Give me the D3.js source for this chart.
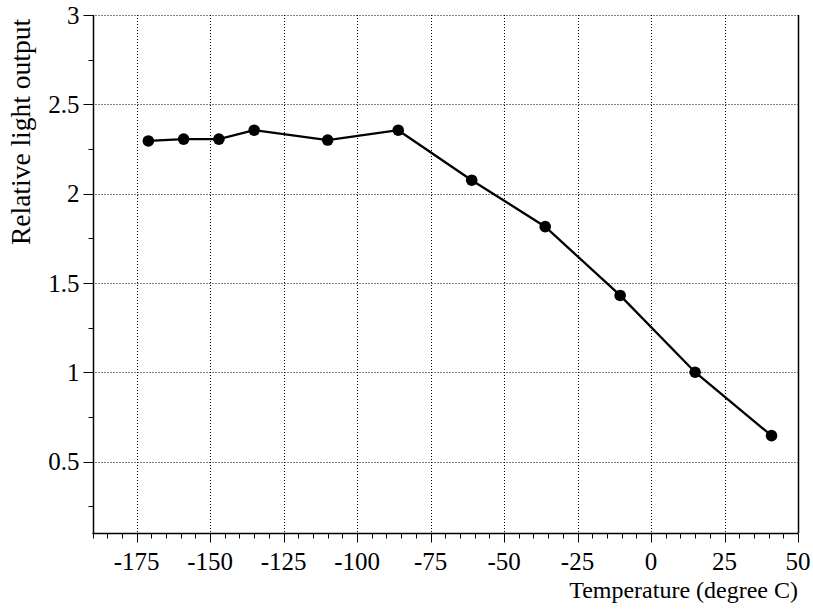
<!DOCTYPE html>
<html>
<head>
<meta charset="utf-8">
<script src="https://cdn.jsdelivr.net/npm/d3@7"></script>
<style>
  html, body { margin: 0; padding: 0; background: #fff; }
  svg text { font-family: "Liberation Serif", "Times New Roman", serif; fill: #000; }
</style>
</head>
<body>
<svg id="chart" width="813" height="610"></svg>
<script>
// Measured light output relative to reference, versus temperature
const temperature = [-171, -159, -147, -135, -110, -86, -61, -36, -10.5, 15, 41];
const lightOutput = [2.295, 2.305, 2.305, 2.355, 2.30, 2.355, 2.075, 1.815, 1.43, 1.00, 0.645];

const xTicks = [-175, -150, -125, -100, -75, -50, -25, 0, 25, 50];
const yTicks = [0.5, 1, 1.5, 2, 2.5, 3];
const xLabel = "Temperature (degree C)";
const yLabel = "Relative light output";

const margin = { left: 92.5, right: 15, top: 15, bottom: 77 };
const W = 813, H = 610;
const svg = d3.select("#chart");

const x = d3.scaleLinear().domain([-190, 50]).range([margin.left, W - margin.right]);
const y = d3.scaleLinear().domain([0.1, 3]).range([H - margin.bottom, margin.top]);

const x0 = x.range()[0], x1 = x.range()[1];
const y0 = y.range()[0], y1 = y.range()[1];

// dotted grid
const grid = svg.append("g").attr("stroke", "#000").attr("stroke-width", 1)
  .attr("stroke-dasharray", "1,2").attr("fill", "none");
grid.selectAll("line.v").data(xTicks.filter(d => d < 50)).join("line")
  .attr("x1", d => Math.round(x(d)) + 0.5).attr("x2", d => Math.round(x(d)) + 0.5)
  .attr("y1", y1).attr("y2", y0);
grid.selectAll("line.h").data(yTicks).join("line")
  .attr("y1", d => Math.round(y(d)) + 0.5).attr("y2", d => Math.round(y(d)) + 0.5)
  .attr("x1", x0).attr("x2", x1);

// bottom axis with minor ticks every 5
const xMinor = d3.range(-190, 50.001, 5);
const xAxis = svg.append("g").attr("transform", `translate(0,${Math.round(y0) + 0.5})`);
xAxis.append("line").attr("x1", x0).attr("x2", x1 + 0.5).attr("stroke", "#000").attr("stroke-width", 1.5);
xAxis.selectAll("line.minor").data(xMinor).join("line")
  .attr("x1", d => Math.round(x(d)) + 0.5).attr("x2", d => Math.round(x(d)) + 0.5)
  .attr("y1", 0).attr("y2", d => xTicks.includes(d) ? 9 : 5)
  .attr("stroke", "#000").attr("stroke-width", 1);
xAxis.selectAll("text").data(xTicks).join("text")
  .attr("x", d => x(d)).attr("y", 36)
  .attr("text-anchor", "middle").attr("font-size", 25)
  .text(d => d);

// left axis with minor ticks every 0.25
const yMinor = d3.range(0.25, 3.001, 0.25);
const yAxis = svg.append("g").attr("transform", `translate(${Math.round(x0) + 0.5},0)`);
yAxis.append("line").attr("y1", y1).attr("y2", y0 + 0.5).attr("stroke", "#000").attr("stroke-width", 1.5);
yAxis.selectAll("line.minor").data(yMinor).join("line")
  .attr("y1", d => Math.round(y(d)) + 0.5).attr("y2", d => Math.round(y(d)) + 0.5)
  .attr("x1", 0).attr("x2", d => (Math.abs(d * 2 - Math.round(d * 2)) < 1e-6) ? -10 : -5)
  .attr("stroke", "#000").attr("stroke-width", 1);
yAxis.selectAll("text").data(yTicks).join("text")
  .attr("x", -14).attr("y", d => y(d)).attr("dy", "0.35em")
  .attr("text-anchor", "end").attr("font-size", 25)
  .text(d => d);

// right frame
svg.append("line").attr("x1", Math.round(x1) + 0.5).attr("x2", Math.round(x1) + 0.5)
  .attr("y1", y1).attr("y2", y0).attr("stroke", "#000").attr("stroke-width", 1.5);

// axis titles
svg.append("text").attr("x", x1).attr("y", 598).attr("text-anchor", "end")
  .attr("font-size", 24).text(xLabel);
svg.append("text").attr("transform", "translate(30,132) rotate(-90)")
  .attr("text-anchor", "middle").attr("font-size", 27.5).text(yLabel);

// series
const pts = temperature.map((t, i) => [t, lightOutput[i]]);
svg.append("path").datum(pts)
  .attr("fill", "none").attr("stroke", "#000").attr("stroke-width", 2.3)
  .attr("d", d3.line().x(d => x(d[0])).y(d => y(d[1])));
svg.selectAll("circle").data(pts).join("circle")
  .attr("cx", d => x(d[0])).attr("cy", d => y(d[1])).attr("r", 5.8).attr("fill", "#000");
</script>
</body>
</html>
